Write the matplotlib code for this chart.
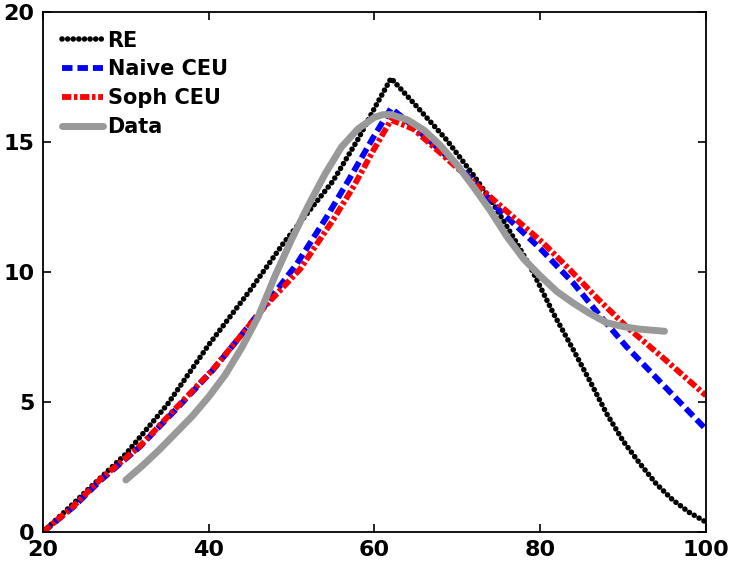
import matplotlib
matplotlib.use("Agg")
import matplotlib.pyplot as plt

# ages (x) and series values
re_x = [20, 23.7, 25, 30, 35, 40, 45, 49, 52, 55, 58, 60, 62, 65, 68.7, 72, 74.3, 77, 78.8, 81.6, 84, 86, 88, 90, 92, 94, 96, 98, 100]
re_y = [0, 1.1, 1.5, 3.0, 4.9, 7.2, 9.3, 11.1, 12.3, 13.5, 15.1, 16.3, 17.45, 16.4, 15.08, 13.7, 12.64, 11.2, 10.2, 8.4, 7.0, 5.8, 4.56, 3.5, 2.64, 1.85, 1.23, 0.75, 0.38]

naive_x = [20, 23.7, 27, 31.7, 36, 40.5, 44, 47, 50.6, 54.2, 57, 59.9, 62, 64.7, 70.7, 75, 80, 84, 87, 90.4, 95, 100]
naive_y = [0, 0.97, 2.0, 3.28, 4.7, 6.23, 7.6, 8.8, 10.3, 12.1, 13.6, 15.2, 16.3, 15.6, 13.9, 12.4, 10.9, 9.57, 8.4, 7.13, 5.6, 3.95]

soph_x = [20, 23.7, 27, 31.7, 36, 40.5, 44, 47, 51, 55, 57.5, 59.9, 62, 64.7, 70.7, 75, 80.4, 84, 87, 90.4, 95, 99.7, 100]
soph_y = [0, 1.0, 2.05, 3.3, 4.75, 6.25, 7.6, 8.75, 10.1, 12.0, 13.3, 14.7, 15.85, 15.5, 13.8, 12.6, 11.1, 9.95, 8.95, 7.9, 6.65, 5.33, 5.25]

data_x = [30, 32, 34, 36, 38, 40, 42, 44, 46, 48, 50, 52, 54, 56, 58, 60, 61, 62, 64, 66, 68, 70, 72, 74, 76, 78, 80, 82, 84, 86, 88, 90, 92, 95]
data_y = [2.0, 2.55, 3.15, 3.8, 4.45, 5.2, 6.05, 7.1, 8.3, 9.85, 11.25, 12.55, 13.75, 14.8, 15.5, 15.95, 16.05, 16.05, 15.85, 15.45, 14.85, 14.1, 13.25, 12.35, 11.35, 10.5, 9.85, 9.25, 8.8, 8.4, 8.05, 7.9, 7.8, 7.72]

plt.rcParams["font.family"] = ["DejaVu Sans"]
plt.rcParams["font.weight"] = "bold"

fig = plt.figure(figsize=(7.3, 5.7), dpi=100)
ax = fig.add_axes([0.0589, 0.0667, 0.9082, 0.9123])

ax.plot(re_x, re_y, color="black", lw=4.0, linestyle=(0, (0.01, 1.0)),
        dash_capstyle="round", label="RE")
ax.plot(naive_x, naive_y, color="blue", lw=4.2, linestyle=(0, (1.8, 0.85)),
        dash_capstyle="butt", label="Naive CEU")
ax.plot(soph_x, soph_y, color="red", lw=4.2, linestyle=(0, (1.6, 0.45, 0.6, 0.45)),
        dash_capstyle="butt", label="Soph CEU")
ax.plot(data_x, data_y, color="#999999", lw=5.0, solid_capstyle="round", label="Data")

ax.set_xlim(20, 100)
ax.set_ylim(0, 20)
ax.set_xticks([20, 40, 60, 80, 100])
ax.set_yticks([0, 5, 10, 15, 20])
ax.tick_params(axis="both", direction="in", length=6, width=1.2, labelsize=16,
               top=True, right=True, pad=6)
for s in ax.spines.values():
    s.set_linewidth(1.3)

leg = ax.legend(loc="upper left", frameon=False, handlelength=2.0,
                handletextpad=0.2, labelspacing=0.42, borderaxespad=0.55,
                borderpad=0.35, prop={"weight": "bold", "size": 15})

fig.savefig("out.png", dpi=100)
